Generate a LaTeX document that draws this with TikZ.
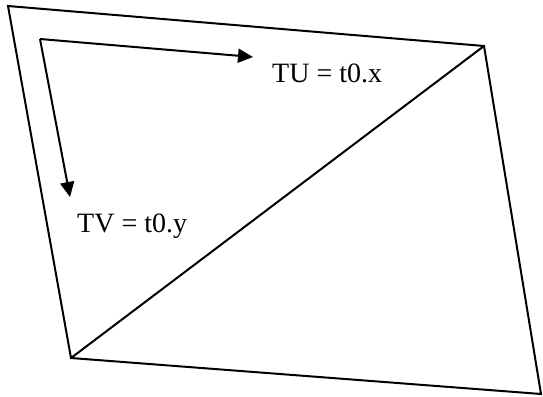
\documentclass[tikz,border=0pt]{standalone}
\usepackage{fontspec}
\setmainfont{Liberation Serif}
\usetikzlibrary{arrows.meta}
\begin{document}
\begin{tikzpicture}[x=1pt,y=-1pt,
  edge/.style={line width=2pt, line join=miter},
  axisarrow/.style={line width=2pt, -{Triangle[length=15pt,width=14pt]}},
  lbl/.style={anchor=base west, inner sep=0pt, font=\fontsize{28}{33}\selectfont}]
\useasboundingbox (0,0) rectangle (543,396);
\coordinate (A) at (8,6);
\coordinate (B) at (484,46);
\coordinate (C) at (541,394);
\coordinate (D) at (71,358);
\coordinate (O) at (40,39);
\coordinate (U) at (253,57);
\coordinate (V) at (70,197);
\draw[edge] (A) -- (B) -- (C) -- (D) -- cycle;
\draw[edge] (D) -- (B);
\draw[axisarrow] (O) -- (U);
\draw[axisarrow] (O) -- (V);
\node[lbl] (tu) at (272,82) {TU = t0.x};
\node[lbl] (tv) at (77,232) {TV = t0.y};
\end{tikzpicture}
\end{document}
